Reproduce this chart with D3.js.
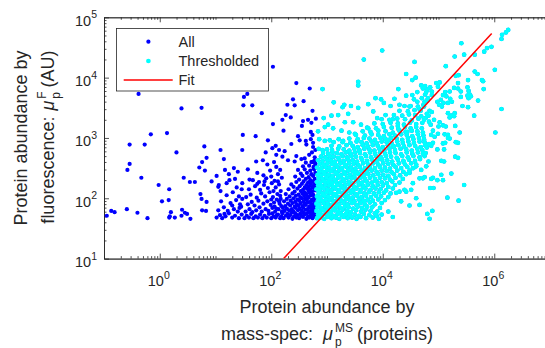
<!DOCTYPE html>
<html>
<head>
<meta charset="utf-8">
<script src="https://cdn.jsdelivr.net/npm/d3@7"></script>
<style>
  body { margin: 0; background: #fff; }
  text { font-family: "Liberation Sans", Arial, Helvetica, sans-serif; fill: #262626; }
  .axis path, .axis line { stroke: #262626; stroke-width: 0.8; }
</style>
</head>
<body>
<svg id="chart" width="545" height="348"></svg>
<script>
// points are [log10 mass-spec abundance, log10 fluorescence abundance]

// blue ("All") points below the threshold
const allSparseExp = [
  [-0.38,3.73],[0.39,3.49],[0.75,3.5],[-0.16,3.06],[0.13,3.08],[-0.54,2.89],[-0.27,2.89],[0.3,2.76],
  [0.8,2.86],[0.84,2.67],[0.76,2.6],[0.71,2.51],[0.81,2.46],[-0.54,2.57],[-0.58,2.47],[-0.33,2.34],
  [0.43,2.34],[0.54,2.27],[0.63,2.27],[-0.02,2.22],[0.17,2.15],[0.73,2.07],[0.75,1.99],[0.84,1.94],
  [0.16,1.97],[0.04,1.95],[-0.59,1.82],[-0.87,1.79],[-0.81,1.77],[-0.95,1.71],[-0.4,1.76],[-0.22,1.67],
  [0.2,1.77],[0.18,1.7],[0.27,1.68],[0.17,1.68],[0.4,1.81],[0.45,1.76],[0.49,1.74],[0.39,1.71],
  [0.55,1.66],[0.76,1.8],[0.83,1.79],
  [2.03,4.18],[1.57,3.73],[1.51,3.68],[1.5,3.54],[1.66,3.54],[2.45,3.91],[2.69,3.82],[1.83,3.41],
  [2.39,3.64],[2.58,3.61],[2.29,3.55],[2.42,3.54],[2.26,3.38],[2.2,3.3],[2.35,3.34],[2.57,3.28],
  [2.03,3.23],[2.22,3.12],[1.49,3.05],[1.72,3.03],[2.48,3.03],[1.94,2.96],[2.51,2.96],[2.63,2.89],
  [2.08,2.87],[1.09,2.8],[1.48,2.8],[1.9,2.76],[1.15,2.65],[1.73,2.61],[1.85,2.63],[2.02,2.83],
  [2.14,2.8],[2.24,2.78],[2.09,2.72],[2.2,2.69],[2.42,2.61],[2.54,2.65],[1.33,2.5],[1.4,2.44],
  [1.58,2.48],[1.17,2.47],[1.02,2.37],[1.24,2.4],[1.06,2.22],[1.05,2.19],[0.93,2.28],[1.2,2.25],
  [1.35,2.32],[1.48,2.25],[1.61,2.31],[1.75,2.24],[1.88,2.28]
];
const allMidExp = [
  [1.02,1.68],[1.08,1.72],[1.12,1.67],[1.18,1.7],[1.24,1.75],[1.3,1.68],[1.35,1.71],[1.42,1.67],
  [1.47,1.73],[1.05,1.8],[1.15,1.85],[1.22,1.79],[1.33,1.82],[1.4,1.78],[1.46,1.86],[1.1,1.95],
  [1.27,1.92],[1.37,1.97],[1.44,1.9],[1.2,2.05],[1.31,2.1],[1.42,2.03],[1.09,2.12],[1.38,2.18],
  [1.25,2.3],[1.47,2.15],[1.48,1.99],[1.3,1.88],[1.16,1.74],[1.43,1.84],
  [1.52,1.67],[1.56,1.71],[1.6,1.68],[1.64,1.74],[1.68,1.67],[1.72,1.7],[1.76,1.68],[1.8,1.73],
  [1.84,1.67],[1.88,1.71],[1.92,1.68],[1.96,1.74],[2.0,1.67],[2.04,1.7],[2.08,1.68],[2.12,1.73],
  [2.16,1.67],[1.54,1.78],[1.61,1.82],[1.66,1.77],[1.73,1.8],[1.79,1.85],[1.83,1.78],[1.9,1.82],
  [1.95,1.79],[2.02,1.84],[2.07,1.78],[2.13,1.82],[2.18,1.87],[1.58,1.9],[1.65,1.94],[1.7,1.88],
  [1.77,1.96],[1.86,1.91],[1.93,1.95],[1.99,1.89],[2.05,1.93],[2.1,1.98],[2.15,1.91],[1.55,2.02],
  [1.63,2.06],[1.74,2.01],[1.82,2.08],[1.89,2.03],[1.97,2.1],[2.03,2.02],[2.11,2.07],[2.17,2.12],
  [1.6,2.15],[1.71,2.2],[1.8,2.14],[1.87,2.22],[1.94,2.17],[2.01,2.25],[2.08,2.18],[2.14,2.23],
  [1.67,2.3],[1.78,2.27],[1.91,2.33],[2.0,2.36],[2.06,2.29],[2.12,2.4],[2.19,2.34],[1.75,2.42],
  [1.86,2.38],[1.98,2.46],[2.09,2.52],[2.16,2.47],[1.93,2.56],[2.05,2.6],
  [2.02,1.75],[2.06,1.86],[2.1,1.72],[2.14,1.95],[2.18,1.7],[2.04,2.12],[2.16,2.04],[2.09,1.83],
  [2.19,1.78],[2.12,2.28],[2.0,1.98],[2.17,1.99]
];
const allDenseExp = [
  [2.22,1.67],[2.31,1.68],[2.38,1.66],[2.45,1.68],[2.5,1.67],[2.57,1.69],[2.63,1.66],[2.68,1.68],[2.74,1.67],[2.78,1.69],
  [2.26,1.71],[2.34,1.72],[2.41,1.7],[2.47,1.72],[2.54,1.71],[2.6,1.73],[2.66,1.7],[2.71,1.72],[2.77,1.71],
  [2.2,1.75],[2.29,1.74],[2.36,1.76],[2.43,1.75],[2.52,1.74],[2.58,1.76],[2.64,1.75],[2.7,1.77],[2.75,1.74],[2.79,1.76],
  [2.24,1.79],[2.32,1.8],[2.4,1.78],[2.48,1.8],[2.55,1.79],[2.61,1.81],[2.67,1.78],[2.73,1.8],[2.78,1.79],
  [2.21,1.84],[2.28,1.83],[2.37,1.82],[2.44,1.84],[2.51,1.83],[2.57,1.85],[2.65,1.82],[2.7,1.84],[2.76,1.83],
  [2.25,1.87],[2.34,1.88],[2.42,1.86],[2.49,1.88],[2.56,1.87],[2.62,1.89],[2.68,1.86],[2.74,1.88],[2.79,1.87],
  [2.3,1.91],[2.38,1.92],[2.46,1.9],[2.53,1.92],[2.6,1.91],[2.66,1.93],[2.72,1.9],[2.77,1.92],
  [2.23,1.95],[2.35,1.96],[2.43,1.94],[2.5,1.96],[2.58,1.95],[2.64,1.97],[2.7,1.94],[2.76,1.96],
  [2.28,1.99],[2.4,2.0],[2.47,1.98],[2.55,2.0],[2.61,1.99],[2.67,2.01],[2.73,1.98],[2.79,2.0],
  [2.33,2.03],[2.44,2.04],[2.52,2.02],[2.59,2.04],[2.65,2.03],[2.71,2.05],[2.77,2.02],
  [2.26,2.07],[2.38,2.08],[2.49,2.06],[2.56,2.08],[2.63,2.07],[2.69,2.09],[2.75,2.06],
  [2.42,2.11],[2.53,2.12],[2.6,2.1],[2.67,2.12],[2.73,2.11],[2.78,2.13],
  [2.31,2.15],[2.47,2.16],[2.57,2.14],[2.64,2.16],[2.7,2.15],[2.76,2.17],
  [2.4,2.19],[2.51,2.2],[2.6,2.18],[2.68,2.2],[2.74,2.19],[2.79,2.21],
  [2.36,2.23],[2.55,2.24],[2.63,2.22],[2.71,2.24],[2.77,2.23],
  [2.45,2.27],[2.58,2.28],[2.66,2.26],[2.74,2.28],
  [2.5,2.31],[2.62,2.32],[2.7,2.3],[2.78,2.32],
  [2.43,2.36],[2.56,2.37],[2.67,2.35],[2.75,2.37],
  [2.53,2.41],[2.64,2.42],[2.72,2.4],[2.79,2.42],
  [2.48,2.47],[2.6,2.48],[2.7,2.46],[2.77,2.48],
  [2.57,2.53],[2.68,2.54],[2.76,2.52],
  [2.62,2.59],[2.73,2.6],[2.79,2.58],
  [2.3,2.63],[2.45,2.7],[2.6,2.66],[2.68,2.72],[2.75,2.85],[2.62,2.95],[2.71,3.1],[2.77,2.62],
  [2.66,3.3],[2.74,3.45],[2.55,3.2],[2.36,2.9],[2.76,2.5],[2.79,2.55],[2.72,2.6],[2.78,2.68],
  [2.73,2.76],[2.79,2.8],[2.75,2.92],[2.71,2.98],[2.8,3.32],[2.72,3.25],[2.74,3.05]
];

// cyan ("Thresholded") points
const thrSparseExp = [
  [3.99,4.45],[3.66,4.3],[4.57,4.26],[3.56,3.93],[3.56,3.87],[4.42,4.06],[4.53,3.96],[4.59,4.0],
  [2.92,3.81],[4.28,3.81],[4.69,3.87],[4.72,3.82],[4.62,3.76],[4.42,3.7],[4.53,3.71],[3.87,3.66],
  [3.97,3.64],[4.21,3.65],[3.12,3.59],[3.31,3.55],[3.43,3.53],[3.56,3.5],[3.74,3.56],[4.02,3.58],
  [4.14,3.53],[4.3,3.55],[4.39,3.53],[4.48,3.52],[3.28,3.51],[3.83,3.44],[4.05,3.38],[2.94,3.33],
  [3.08,3.37],[3.2,3.38],[3.38,3.4],[3.32,3.26],[3.47,3.26],[3.61,3.22],[2.96,3.18],[3.02,3.22],
  [3.11,3.16],[3.74,3.16],[3.9,3.33],[4.18,3.31],
  [6.25,4.79],[6.21,4.75],[6.14,4.71],[6.13,4.64],[5.41,4.57],[5.95,4.51],[5.87,4.49],[5.82,4.43],
  [5.65,4.38],[5.46,4.38],[5.29,4.35],[5.13,4.19],[6.01,4.13],[5.65,4.1],[5.7,4.06],[5.31,4.03],
  [5.36,4.04],[5.53,3.96],[5.78,3.96],[5.8,3.94],[4.96,3.91],[5.02,3.92],[4.99,3.85],[5.35,3.91],
  [4.76,3.86],[4.8,3.8],[4.85,3.84],[4.88,3.77],[4.78,3.76],[5.28,3.83],[5.35,3.82],[5.4,3.77],
  [5.52,3.84],[5.54,3.78],[5.56,3.72],[5.52,3.7],[5.58,3.69],[5.54,3.66],[5.81,3.81],[5.12,3.76],
  [5.2,3.77],[5.08,3.71],[5.14,3.69],[5.4,3.68],[5.71,3.62],[4.88,3.71],[4.81,3.66],[4.75,3.6],
  [4.98,3.6],[5.04,3.63],[5.01,3.55],[5.09,3.58],[5.06,3.52],[5.17,3.58],[5.24,3.6],[5.21,3.65],
  [5.43,3.53],[5.53,3.51],[6.13,3.48],[5.64,3.37],[4.84,3.45],[4.79,3.4],[4.82,3.37],[4.88,3.43],
  [4.77,3.33],[4.92,3.3],[4.83,3.27],[4.86,3.22],[5.17,3.41],[5.23,3.37],[5.2,3.34],[5.29,3.41],
  [5.28,3.36],[5.02,3.26],[5.0,3.19],[5.08,3.21],[5.13,3.19],[5.3,3.2],[5.38,3.09],[6.02,3.09],
  [4.99,3.07],[4.93,3.02],[4.87,3.05],[4.9,3.12],[5.11,3.06],[5.17,3.05],[5.2,2.99],[5.12,2.92],
  [5.31,2.93],[5.35,2.92],[4.83,2.9],[4.87,2.87],[4.79,2.84],[4.9,2.92],[4.98,2.81],[5.1,2.81],
  [4.77,2.75],[4.75,2.7],[4.82,2.61],[5.05,2.62],[5.1,2.61],[5.3,2.69],[5.35,2.67],[5.23,2.41],
  [4.75,2.35],[4.9,2.34],[4.87,2.32],[5.05,2.39],[4.98,2.3],[5.08,2.3],[5.46,2.22],[4.85,2.17],
  [4.91,2.17],[5.16,2.01],[5.36,1.96],[4.8,1.74],[4.89,1.79],[4.84,1.66],
  [5.08,2.91],[5.17,3.0],[4.66,1.89],[4.48,1.88],[4.6,2.0],[4.33,1.95],[3.89,1.71],[4.18,1.69],
  [4.1,1.78],[3.98,1.73],[4.3,2.11],[4.24,2.09],[4.39,2.14],[4.42,2.11],[4.51,2.14],[4.54,2.25],
  [4.66,2.33],[4.72,2.33],[4.69,2.47],[4.78,2.53],[4.54,2.5],[4.6,2.53],[4.48,2.42],
  [4.62,3.6],[4.7,3.66],[4.76,3.72],[4.66,3.48],[4.74,3.52],[4.8,3.62],[4.56,3.64],
  [2.86,2.98],[2.96,2.95],[3.05,2.96],[3.12,2.93],[3.21,2.98],[3.29,2.95],[2.85,2.82],[2.92,2.8],
  [3.26,3.12],[3.4,3.09],[3.5,3.07],[2.84,3.11]
];
const thrDenseExp = [
  [2.82,1.67],[2.88,1.68],[2.95,1.66],[3.01,1.69],[3.08,1.67],[3.16,1.68],[3.22,1.66],[3.3,1.69],[3.37,1.67],[3.45,1.68],[3.53,1.66],[3.6,1.69],[3.7,1.67],[3.82,1.68],[3.93,1.66],
  [2.84,1.73],[2.91,1.72],[2.98,1.74],[3.05,1.73],[3.12,1.71],[3.19,1.74],[3.27,1.72],[3.34,1.74],[3.41,1.72],[3.5,1.73],[3.57,1.71],[3.66,1.74],[3.76,1.72],[3.86,1.75],
  [2.81,1.79],[2.87,1.78],[2.93,1.8],[3.0,1.79],[3.07,1.77],[3.14,1.8],[3.2,1.78],[3.28,1.81],[3.36,1.79],[3.43,1.77],[3.52,1.8],[3.61,1.78],[3.69,1.81],[3.78,1.79],[3.9,1.78],
  [2.83,1.85],[2.9,1.84],[2.97,1.86],[3.03,1.85],[3.1,1.83],[3.17,1.86],[3.24,1.84],[3.32,1.86],[3.39,1.85],[3.47,1.83],[3.55,1.86],[3.63,1.84],[3.72,1.86],[3.81,1.85],[3.95,1.84],
  [2.81,1.91],[2.86,1.9],[2.94,1.92],[3.01,1.91],[3.08,1.89],[3.15,1.92],[3.22,1.9],[3.3,1.92],[3.37,1.9],[3.45,1.92],[3.53,1.89],[3.6,1.92],[3.68,1.9],[3.77,1.93],[3.86,1.9],[3.98,1.92],
  [2.84,1.97],[2.91,1.96],[2.98,1.98],[3.05,1.97],[3.12,1.95],[3.19,1.98],[3.26,1.96],[3.34,1.98],[3.41,1.97],[3.49,1.95],[3.57,1.98],[3.65,1.96],[3.73,1.98],[3.82,1.96],[3.92,1.98],[4.04,1.97],
  [2.82,2.03],[2.88,2.02],[2.95,2.04],[3.02,2.03],[3.09,2.01],[3.16,2.04],[3.23,2.02],[3.31,2.04],[3.38,2.03],[3.46,2.01],[3.54,2.04],[3.62,2.02],[3.7,2.04],[3.79,2.02],[3.88,2.04],[3.97,2.03],[4.1,2.02],
  [2.85,2.09],[2.92,2.08],[2.99,2.1],[3.06,2.09],[3.13,2.07],[3.2,2.1],[3.28,2.08],[3.35,2.1],[3.43,2.09],[3.51,2.07],[3.59,2.1],[3.67,2.08],[3.75,2.1],[3.84,2.08],[3.93,2.1],[4.02,2.09],[4.14,2.08],
  [2.81,2.15],[2.87,2.14],[2.94,2.16],[3.01,2.15],[3.08,2.13],[3.15,2.16],[3.22,2.14],[3.3,2.16],[3.37,2.15],[3.45,2.13],[3.53,2.16],[3.61,2.14],[3.69,2.16],[3.78,2.14],[3.87,2.16],[3.96,2.15],[4.06,2.13],[4.18,2.16],
  [2.84,2.21],[2.9,2.2],[2.97,2.22],[3.04,2.21],[3.11,2.19],[3.18,2.22],[3.26,2.2],[3.33,2.22],[3.41,2.21],[3.49,2.19],[3.57,2.22],[3.65,2.2],[3.73,2.22],[3.82,2.2],[3.91,2.22],[4.0,2.21],[4.1,2.19],[4.22,2.22],
  [2.82,2.27],[2.88,2.26],[2.95,2.28],[3.02,2.27],[3.09,2.25],[3.16,2.28],[3.24,2.26],[3.31,2.28],[3.39,2.27],[3.47,2.25],[3.55,2.28],[3.63,2.26],[3.71,2.28],[3.8,2.26],[3.89,2.28],[3.98,2.27],[4.07,2.25],[4.17,2.28],[4.3,2.26],
  [2.85,2.33],[2.92,2.32],[2.99,2.34],[3.06,2.33],[3.13,2.31],[3.2,2.34],[3.28,2.32],[3.36,2.34],[3.44,2.33],[3.52,2.31],[3.6,2.34],[3.68,2.32],[3.77,2.34],[3.86,2.32],[3.95,2.34],[4.04,2.33],[4.13,2.31],[4.23,2.34],[4.36,2.32],
  [2.83,2.39],[2.89,2.38],[2.96,2.4],[3.03,2.39],[3.1,2.37],[3.18,2.4],[3.25,2.38],[3.33,2.4],[3.41,2.39],[3.49,2.37],[3.57,2.4],[3.66,2.38],[3.74,2.4],[3.83,2.38],[3.92,2.4],[4.01,2.39],[4.1,2.37],[4.2,2.4],[4.31,2.38],[4.42,2.4],
  [2.86,2.45],[2.93,2.44],[3.0,2.46],[3.07,2.45],[3.15,2.43],[3.22,2.46],[3.3,2.44],[3.38,2.46],[3.46,2.45],[3.54,2.43],[3.62,2.46],[3.71,2.44],[3.8,2.46],[3.89,2.44],[3.98,2.46],[4.07,2.45],[4.16,2.43],[4.26,2.46],[4.37,2.44],[4.48,2.46],
  [2.82,2.51],[2.9,2.5],[2.97,2.52],[3.04,2.51],[3.12,2.49],[3.19,2.52],[3.27,2.5],[3.35,2.52],[3.43,2.51],[3.51,2.49],[3.59,2.52],[3.68,2.5],[3.77,2.52],[3.86,2.5],[3.95,2.52],[4.04,2.51],[4.13,2.49],[4.23,2.52],[4.33,2.5],[4.44,2.52],[4.55,2.5],
  [2.87,2.57],[2.94,2.56],[3.01,2.58],[3.09,2.57],[3.16,2.55],[3.24,2.58],[3.32,2.56],[3.4,2.58],[3.48,2.57],[3.56,2.55],[3.65,2.58],[3.74,2.56],[3.83,2.58],[3.92,2.56],[4.01,2.58],[4.1,2.57],[4.19,2.55],[4.29,2.58],[4.4,2.56],[4.51,2.58],[4.6,2.56],
  [2.84,2.63],[2.92,2.62],[3.0,2.64],[3.07,2.63],[3.14,2.61],[3.22,2.64],[3.3,2.62],[3.38,2.64],[3.46,2.63],[3.54,2.61],[3.63,2.64],[3.72,2.62],[3.81,2.64],[3.9,2.62],[3.99,2.64],[4.08,2.63],[4.17,2.61],[4.27,2.64],[4.37,2.62],[4.47,2.64],[4.58,2.62],[4.67,2.65],
  [2.89,2.69],[2.97,2.68],[3.05,2.7],[3.12,2.69],[3.2,2.67],[3.28,2.7],[3.36,2.68],[3.44,2.7],[3.52,2.69],[3.61,2.67],[3.7,2.7],[3.79,2.68],[3.88,2.7],[3.97,2.68],[4.06,2.7],[4.15,2.69],[4.25,2.67],[4.35,2.7],[4.45,2.68],[4.55,2.7],[4.66,2.68],
  [2.93,2.75],[3.02,2.74],[3.1,2.76],[3.18,2.75],[3.26,2.73],[3.34,2.76],[3.42,2.74],[3.5,2.76],[3.59,2.75],[3.68,2.73],[3.77,2.76],[3.86,2.74],[3.95,2.76],[4.04,2.74],[4.13,2.76],[4.23,2.75],[4.33,2.73],[4.43,2.76],[4.53,2.74],[4.63,2.76],[4.72,2.74],
  [3.0,2.81],[3.09,2.8],[3.2,2.82],[3.3,2.81],[3.4,2.79],[3.49,2.82],[3.58,2.8],[3.67,2.82],[3.76,2.81],[3.85,2.79],[3.94,2.82],[4.03,2.8],[4.12,2.82],[4.22,2.8],[4.32,2.82],[4.42,2.81],[4.52,2.79],[4.62,2.82],[4.71,2.8],
  [3.08,2.87],[3.22,2.86],[3.35,2.88],[3.46,2.87],[3.55,2.85],[3.64,2.88],[3.73,2.86],[3.82,2.88],[3.91,2.87],[4.0,2.85],[4.09,2.88],[4.18,2.86],[4.28,2.88],[4.38,2.86],[4.48,2.88],[4.58,2.87],[4.68,2.85],[4.76,2.88],
  [3.28,2.93],[3.42,2.92],[3.53,2.94],[3.62,2.93],[3.71,2.91],[3.8,2.94],[3.89,2.92],[3.98,2.94],[4.07,2.93],[4.16,2.91],[4.26,2.94],[4.36,2.92],[4.46,2.94],[4.56,2.92],[4.66,2.94],[4.75,2.93],
  [3.4,2.99],[3.55,2.98],[3.66,3.0],[3.76,2.99],[3.86,2.97],[3.96,3.0],[4.05,2.98],[4.15,3.0],[4.25,2.99],[4.35,2.97],[4.45,3.0],[4.55,2.98],[4.65,3.0],[4.74,2.98],
  [3.52,3.05],[3.68,3.04],[3.8,3.06],[3.92,3.05],[4.02,3.03],[4.12,3.06],[4.22,3.04],[4.33,3.06],[4.43,3.05],[4.53,3.03],[4.63,3.06],[4.73,3.04],
  [3.64,3.11],[3.78,3.1],[3.92,3.12],[4.05,3.11],[4.18,3.09],[4.3,3.12],[4.41,3.1],[4.52,3.12],[4.62,3.11],[4.72,3.09],
  [3.72,3.17],[3.88,3.16],[4.02,3.18],[4.16,3.17],[4.28,3.15],[4.4,3.18],[4.5,3.16],[4.6,3.18],[4.7,3.16],
  [3.85,3.24],[4.0,3.23],[4.14,3.25],[4.27,3.24],[4.38,3.22],[4.49,3.25],[4.6,3.23],[4.71,3.25],
  [3.98,3.31],[4.12,3.3],[4.26,3.32],[4.4,3.31],[4.52,3.29],[4.64,3.32],[4.74,3.3],
  [4.2,3.38],[4.35,3.37],[4.47,3.39],[4.58,3.38],[4.69,3.36],
  [4.3,3.45],[4.45,3.44],[4.57,3.46],[4.68,3.45],
  [4.5,3.53],[4.63,3.52],[4.73,3.55],
  [3.04,2.3],[3.47,2.12],[3.72,2.48],[3.95,2.66],[4.2,2.86],[4.44,3.1],[3.33,2.55],[3.58,2.78],
  [3.13,2.06],[3.86,2.29],[4.11,2.97],[4.38,2.6],[3.25,1.75],[3.67,1.95],[4.27,3.2],[3.5,2.42]
];

// fit: fluorescence = fitA * massSpec^fitB over fitX
const fitA = 0.06, fitB = 1;
const fitX = [167, 9.0e5];

const xDomain = [1e-1, 1e7];
const yDomain = [1e1, 1e5];
const xLabelExps = [0, 2, 4, 6];
const yLabelExps = [1, 2, 3, 4, 5];
const legendLabels = ["All", "Thresholded", "Fit"];

const toVal = ([a, b]) => [Math.pow(10, a), Math.pow(10, b)];
const thrPts = thrSparseExp.concat(thrDenseExp).map(toVal);
const allPts = allSparseExp.concat(allMidExp, allDenseExp).map(toVal).concat(thrPts);

const svg = d3.select("#chart");
const L = 104, R = 550, T = 17.3, B = 258.6;
const x = d3.scaleLog().domain(xDomain).range([L, R]);
const y = d3.scaleLog().domain(yDomain).range([B, T]);

const minorOf = dom => {
  const out = [];
  const e0 = Math.round(Math.log10(dom[0])), e1 = Math.round(Math.log10(dom[1]));
  for (let e = e0; e < e1; e++) for (let k = 2; k < 10; k++) out.push(k * Math.pow(10, e));
  return out;
};
const xMinor = minorOf(xDomain).concat(d3.range(-1, 8, 2).map(e => Math.pow(10, e)));
const yMinor = minorOf(yDomain);
const xMajor = xLabelExps.map(e => Math.pow(10, e));
const yMajor = yLabelExps.map(e => Math.pow(10, e));

svg.append("defs").append("clipPath").attr("id", "plot")
  .append("rect").attr("x", L).attr("y", T).attr("width", R - L).attr("height", B - T);

// axes (ticks point inward)
const gx = svg.append("g").attr("class", "axis").attr("transform", `translate(0,${B})`);
gx.call(d3.axisBottom(x).tickValues(xMinor).tickSizeInner(-2.5).tickSizeOuter(0).tickFormat(""));
gx.append("g").call(d3.axisBottom(x).tickValues(xMajor).tickSizeInner(-5).tickSizeOuter(0).tickFormat(""));
const gt = svg.append("g").attr("class", "axis").attr("transform", `translate(0,${T})`);
gt.call(d3.axisTop(x).tickValues(xMinor).tickSizeInner(-2.5).tickSizeOuter(0).tickFormat(""));
gt.append("g").call(d3.axisTop(x).tickValues(xMajor).tickSizeInner(-5).tickSizeOuter(0).tickFormat(""));
const gy = svg.append("g").attr("class", "axis").attr("transform", `translate(${L},0)`);
gy.call(d3.axisLeft(y).tickValues(yMinor).tickSizeInner(-2.5).tickSizeOuter(0).tickFormat(""));
gy.append("g").call(d3.axisLeft(y).tickValues(yMajor).tickSizeInner(-5).tickSizeOuter(0).tickFormat(""));
svg.selectAll(".axis text").remove();

// tick labels 10^n
const pow10Label = (sel) => {
  sel.text("10").append("tspan").attr("dy", -7.5).attr("font-size", 10.5).text(d => d);
};
svg.append("g").selectAll("text").data(xLabelExps).join("text")
  .attr("x", d => x(Math.pow(10, d)) - 1).attr("y", 286)
  .attr("text-anchor", "middle").attr("font-size", 14.5)
  .call(pow10Label);
svg.append("g").selectAll("text").data(yLabelExps).join("text")
  .attr("x", 97).attr("y", d => y(Math.pow(10, d)) + 8.5)
  .attr("text-anchor", "end").attr("font-size", 14.5)
  .call(pow10Label);

// points
const plot = svg.append("g").attr("clip-path", "url(#plot)");
plot.append("g").selectAll("circle").data(allPts).join("circle")
  .attr("cx", d => x(d[0])).attr("cy", d => y(d[1])).attr("r", 2.1).attr("fill", "#0000ff");
plot.append("g").selectAll("circle").data(thrPts).join("circle")
  .attr("cx", d => x(d[0])).attr("cy", d => y(d[1])).attr("r", 2.35).attr("fill", "#00ffff");

const line = d3.line().x(d => x(d)).y(d => y(fitA * Math.pow(d, fitB)));
plot.append("path").datum(fitX).attr("d", line)
  .attr("fill", "none").attr("stroke", "#ff0000").attr("stroke-width", 1.5);

// legend
const lg = svg.append("g");
lg.append("rect").attr("x", 116.5).attr("y", 28.5).attr("width", 152).attr("height", 62.5)
  .attr("fill", "#fff").attr("stroke", "#262626").attr("stroke-width", 0.8);
const rowsY = [41.7, 61, 80];
lg.append("circle").attr("cx", 148.4).attr("cy", rowsY[0]).attr("r", 2.1).attr("fill", "#0000ff");
lg.append("circle").attr("cx", 148.4).attr("cy", rowsY[1]).attr("r", 2.35).attr("fill", "#00ffff");
lg.append("line").attr("x1", 123.7).attr("x2", 172.7).attr("y1", rowsY[2]).attr("y2", rowsY[2])
  .attr("stroke", "#ff0000").attr("stroke-width", 1.5);
lg.selectAll("text.lab").data(legendLabels).join("text").attr("class", "lab")
  .attr("x", 178.5).attr("y", (d, i) => rowsY[i] + 5.2).attr("font-size", 14.5).text(d => d);

// axis titles
const xt = svg.append("g").attr("font-size", 18);
xt.append("text").attr("x", 327).attr("y", 312.5).attr("text-anchor", "middle").text("Protein abundance by");
const xt2 = xt.append("text").attr("x", 327).attr("y", 340).attr("text-anchor", "middle").text("mass-spec:");
xt2.append("tspan").attr("dx", 10).attr("font-style", "italic").text("\u03bc");
xt2.append("tspan").attr("dx", 2).attr("dy", 6).attr("font-size", 12).text("p");
xt2.append("tspan").attr("dx", -6.7).attr("dy", -14).attr("font-size", 12).text("MS");
xt2.append("tspan").attr("dx", 4).attr("dy", 8).text("(proteins)");

const yt = svg.append("g").attr("font-size", 18);
yt.append("text").attr("transform", "translate(27,138) rotate(-90)").attr("text-anchor", "middle")
  .text("Protein abundance by");
const yt2 = yt.append("text").attr("transform", "translate(54,137) rotate(-90)").attr("text-anchor", "middle")
  .text("fluorescence:");
yt2.append("tspan").attr("dx", 6).attr("font-style", "italic").text("\u03bc");
yt2.append("tspan").attr("dx", 2).attr("dy", 6).attr("font-size", 12).text("p");
yt2.append("tspan").attr("dx", -6.7).attr("dy", -14).attr("font-size", 12).text("F");
yt2.append("tspan").attr("dx", 4).attr("dy", 8).text("(AU)");
</script>
</body>
</html>
